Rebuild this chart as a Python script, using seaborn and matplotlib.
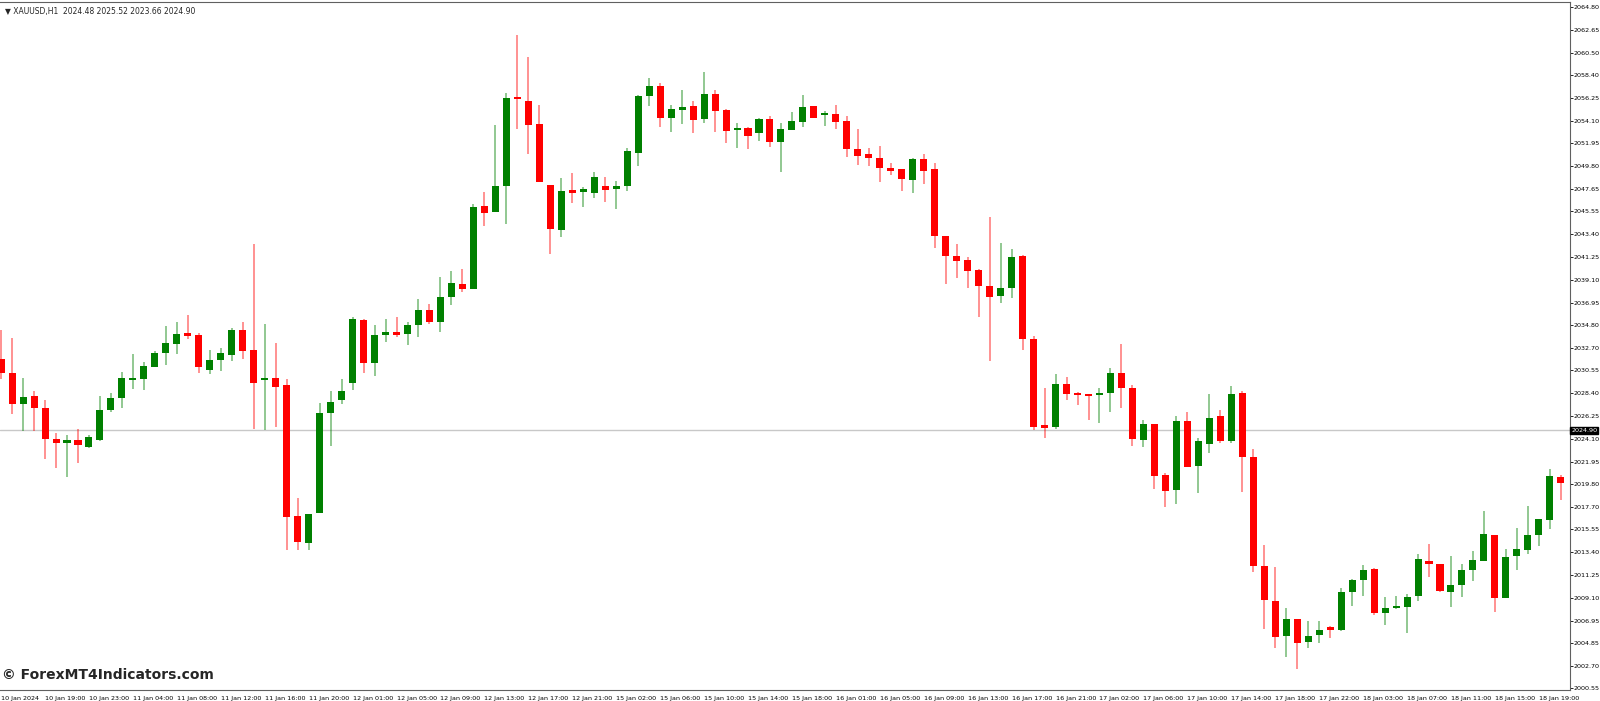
import numpy as np
import pandas as pd
import matplotlib
matplotlib.use('Agg')
import matplotlib.pyplot as plt
import seaborn as sns

sns.set_theme(style='white')
plt.rcParams['font.family'] = ['DejaVu Sans']

# XAUUSD H1 candles (open, high, low, close)
opens = [2031.6, 2030.3, 2027.4, 2028.1, 2027.0, 2024.1, 2023.7, 2024.0, 2023.3, 2024.0,
         2026.8, 2027.9, 2029.6, 2029.7, 2030.9, 2032.2, 2033.0, 2034.0, 2033.9, 2030.6,
         2031.5, 2032.0, 2034.4, 2032.5, 2029.6, 2029.8, 2029.2, 2016.8, 2014.3, 2017.1,
         2026.5, 2027.8, 2029.4, 2035.3, 2031.2, 2033.9, 2034.1, 2034.0, 2034.8, 2036.2,
         2035.1, 2037.5, 2038.7, 2038.2, 2046.1, 2045.5, 2047.9, 2056.2, 2056.0, 2053.8,
         2048.0, 2043.8, 2047.5, 2047.4, 2047.3, 2047.9, 2047.7, 2047.9, 2051.1, 2056.4,
         2057.4, 2054.4, 2055.1, 2055.5, 2054.3, 2056.6, 2055.1, 2053.2, 2053.4, 2052.9,
         2054.3, 2052.1, 2053.2, 2054.0, 2055.5, 2054.6, 2054.7, 2054.1, 2051.4, 2051.0,
         2050.6, 2049.6, 2049.5, 2048.5, 2050.5, 2049.5, 2043.2, 2041.3, 2041.0, 2040.0,
         2038.5, 2037.6, 2038.3, 2041.3, 2033.5, 2025.2, 2025.2, 2029.3, 2028.3, 2028.2,
         2028.2, 2028.4, 2030.3, 2028.9, 2024.0, 2025.5, 2020.7, 2019.3, 2025.8, 2021.5,
         2023.6, 2026.2, 2023.9, 2028.4, 2022.4, 2012.1, 2008.8, 2005.5, 2007.1, 2004.9,
         2005.6, 2006.2, 2006.1, 2009.6, 2010.8, 2011.8, 2007.7, 2008.1, 2008.2, 2009.3,
         2012.6, 2012.3, 2009.6, 2010.3, 2011.7, 2012.6, 2015.0, 2009.1, 2013.0, 2013.6,
         2015.0, 2016.4, 2020.5]
highs = [2034.4, 2033.6, 2029.8, 2028.6, 2027.8, 2024.6, 2024.5, 2025.0, 2024.5, 2028.1,
         2028.4, 2030.4, 2032.1, 2031.3, 2032.4, 2034.7, 2035.1, 2035.8, 2034.1, 2032.5,
         2032.7, 2034.5, 2035.1, 2042.5, 2034.9, 2033.1, 2029.7, 2018.5, 2017.0, 2027.5,
         2028.6, 2029.7, 2035.6, 2035.4, 2034.8, 2035.4, 2035.6, 2035.1, 2037.3, 2036.8,
         2039.4, 2039.9, 2040.1, 2046.2, 2047.4, 2053.7, 2056.7, 2062.2, 2060.1, 2055.6,
         2048.0, 2048.7, 2049.2, 2047.8, 2049.3, 2048.8, 2048.4, 2051.5, 2056.5, 2058.1,
         2057.7, 2055.6, 2057.0, 2056.0, 2058.7, 2057.0, 2055.2, 2053.9, 2053.5, 2054.4,
         2054.5, 2053.9, 2054.9, 2056.5, 2055.5, 2055.0, 2055.6, 2054.5, 2053.3, 2051.5,
         2051.7, 2050.1, 2049.5, 2050.6, 2051.0, 2050.1, 2043.2, 2042.5, 2041.2, 2040.1,
         2045.0, 2042.6, 2042.0, 2041.4, 2033.8, 2028.9, 2030.2, 2029.9, 2028.5, 2028.3,
         2028.9, 2030.8, 2033.0, 2029.2, 2025.9, 2025.5, 2020.9, 2026.2, 2026.6, 2024.2,
         2028.3, 2026.8, 2029.1, 2028.6, 2023.1, 2014.1, 2012.0, 2008.1, 2007.1, 2006.9,
         2006.9, 2006.4, 2010.0, 2010.9, 2012.2, 2011.9, 2009.2, 2009.3, 2009.5, 2013.2,
         2014.2, 2012.3, 2013.0, 2012.3, 2013.5, 2017.3, 2015.0, 2013.7, 2015.7, 2017.8,
         2016.5, 2021.2, 2020.7]
lows = [2029.7, 2026.4, 2024.8, 2024.8, 2022.2, 2021.3, 2020.5, 2021.8, 2023.2, 2023.9,
        2026.6, 2027.0, 2028.8, 2028.7, 2030.9, 2031.1, 2032.1, 2033.5, 2030.3, 2030.2,
        2030.5, 2031.4, 2031.6, 2025.0, 2024.9, 2025.2, 2013.6, 2013.6, 2013.6, 2017.1,
        2023.4, 2027.4, 2028.7, 2030.3, 2030.0, 2033.2, 2033.7, 2032.9, 2033.7, 2034.9,
        2034.2, 2036.7, 2037.9, 2038.2, 2044.2, 2045.5, 2044.4, 2053.3, 2051.0, 2048.3,
        2041.5, 2043.1, 2046.3, 2046.0, 2046.8, 2046.4, 2045.8, 2047.5, 2049.8, 2055.5,
        2053.5, 2053.0, 2053.8, 2052.9, 2053.9, 2053.0, 2052.0, 2051.5, 2051.4, 2052.2,
        2051.6, 2049.3, 2053.2, 2053.5, 2054.4, 2053.6, 2053.3, 2050.7, 2049.9, 2049.8,
        2048.3, 2049.0, 2047.5, 2047.3, 2048.1, 2042.1, 2038.7, 2039.3, 2038.3, 2035.6,
        2031.4, 2036.9, 2037.4, 2032.5, 2024.9, 2024.2, 2025.0, 2027.8, 2027.3, 2025.9,
        2025.6, 2026.6, 2027.0, 2023.4, 2023.3, 2019.4, 2017.7, 2017.9, 2021.4, 2019.0,
        2022.8, 2023.7, 2023.7, 2019.1, 2011.5, 2006.2, 2004.4, 2003.5, 2002.4, 2004.4,
        2004.8, 2005.3, 2006.0, 2008.3, 2009.3, 2007.5, 2006.5, 2008.0, 2005.8, 2008.8,
        2011.1, 2009.6, 2008.2, 2009.2, 2010.7, 2012.6, 2007.8, 2009.1, 2011.7, 2013.2,
        2014.0, 2015.6, 2018.3]
closes = [2030.3, 2027.4, 2028.0, 2027.0, 2024.1, 2023.7, 2024.0, 2023.5, 2024.3, 2026.8,
          2027.9, 2029.8, 2029.8, 2031.0, 2032.2, 2033.1, 2034.0, 2033.8, 2030.9, 2031.5,
          2032.2, 2034.4, 2032.4, 2029.4, 2029.8, 2029.0, 2016.7, 2014.4, 2017.0, 2026.5,
          2027.6, 2028.6, 2035.4, 2031.2, 2033.9, 2034.1, 2033.9, 2034.8, 2036.2, 2035.1,
          2037.5, 2038.8, 2038.2, 2046.0, 2045.4, 2047.9, 2056.2, 2056.1, 2053.7, 2048.3,
          2043.9, 2047.5, 2047.3, 2047.5, 2048.8, 2047.6, 2047.9, 2051.2, 2056.4, 2057.4,
          2054.4, 2055.2, 2055.4, 2054.2, 2056.6, 2055.0, 2053.1, 2053.3, 2052.7, 2054.3,
          2052.1, 2053.3, 2054.1, 2055.4, 2054.4, 2054.8, 2054.0, 2051.4, 2050.8, 2050.6,
          2049.6, 2049.4, 2048.6, 2050.5, 2049.4, 2043.2, 2041.3, 2040.9, 2039.9, 2038.5,
          2037.5, 2038.3, 2041.2, 2033.5, 2025.2, 2025.1, 2029.3, 2028.3, 2028.2, 2028.1,
          2028.4, 2030.3, 2028.9, 2024.1, 2025.5, 2020.6, 2019.2, 2025.8, 2021.4, 2023.9,
          2026.1, 2023.9, 2028.3, 2022.4, 2012.1, 2008.9, 2005.4, 2007.1, 2004.8, 2005.5,
          2006.1, 2006.1, 2009.6, 2010.8, 2011.7, 2007.7, 2008.1, 2008.2, 2009.2, 2012.8,
          2012.3, 2009.7, 2010.3, 2011.7, 2012.7, 2015.1, 2009.1, 2012.9, 2013.7, 2015.0,
          2016.5, 2020.6, 2019.9]

time_labels = ['10 Jan 2024', '10 Jan 19:00', '10 Jan 23:00', '11 Jan 04:00', '11 Jan 08:00',
               '11 Jan 12:00', '11 Jan 16:00', '11 Jan 20:00', '12 Jan 01:00', '12 Jan 05:00',
               '12 Jan 09:00', '12 Jan 13:00', '12 Jan 17:00', '12 Jan 21:00', '15 Jan 02:00',
               '15 Jan 06:00', '15 Jan 10:00', '15 Jan 14:00', '15 Jan 18:00', '16 Jan 01:00',
               '16 Jan 05:00', '16 Jan 09:00', '16 Jan 13:00', '16 Jan 17:00', '16 Jan 21:00',
               '17 Jan 02:00', '17 Jan 06:00', '17 Jan 10:00', '17 Jan 14:00', '17 Jan 18:00',
               '17 Jan 22:00', '18 Jan 03:00', '18 Jan 07:00', '18 Jan 11:00', '18 Jan 15:00',
               '18 Jan 19:00']
price_ticks = [2064.80, 2062.65, 2060.50, 2058.40, 2056.25, 2054.10, 2051.95, 2049.80,
               2047.65, 2045.55, 2043.40, 2041.25, 2039.10, 2036.95, 2034.80, 2032.70,
               2030.55, 2028.40, 2026.25, 2024.10, 2021.95, 2019.80, 2017.70, 2015.55,
               2013.40, 2011.25, 2009.10, 2006.95, 2004.85, 2002.70, 2000.55]
last_price = 2024.90

df = pd.DataFrame({'open': opens, 'high': highs, 'low': lows, 'close': closes})
df['bar'] = np.arange(len(df))
df['up'] = df['close'] >= df['open']

fig = plt.figure(figsize=(16, 7.01), dpi=100)
ax = fig.add_axes([0.0, 0.0157, 0.981, 0.9815])

green, red = '#008000', '#FF0000'
colors = np.where(df['up'], green, red)

# wicks
ax.vlines(df['bar'], df['low'], df['high'], colors=colors, linewidth=1.2, alpha=0.5, zorder=2)
# bodies
body_low = df[['open', 'close']].min(axis=1)
body_h = (df['close'] - df['open']).abs().clip(lower=0.25)
ax.bar(df['bar'], body_h, bottom=body_low, width=0.64, color=colors, linewidth=0, zorder=3)

ax.axhline(last_price, color='#c8c8c8', linewidth=1, zorder=1)

ax.set_xlim(-0.1, 142.8)
ax.set_ylim(2000.4, 2065.3)

ax.yaxis.tick_right()
ax.set_yticks(price_ticks)
ax.set_yticklabels([f'{p:.2f}' for p in price_ticks])
ax.set_xticks(np.arange(0, 4 * len(time_labels), 4))
ax.set_xticklabels(time_labels)
for lab in ax.get_xticklabels():
    lab.set_horizontalalignment('left')
ax.tick_params(axis='x', labelsize=4.6, length=3, width=0.6, colors='black', pad=1.5)
ax.tick_params(axis='y', labelsize=4.6, length=2, width=0.6, colors='black', pad=1)
for s in ax.spines.values():
    s.set_color('#606060')
    s.set_linewidth(0.8)
ax.spines['left'].set_visible(False)

# current price box on the axis
ax.text(1.001, last_price, f'{last_price:.2f}', transform=ax.get_yaxis_transform(),
        fontsize=4.6, color='white', va='center', ha='left',
        bbox=dict(boxstyle='square,pad=0.15', fc='black', ec='black'))

ax.text(0.003, 0.992, '\u25bc XAUUSD,H1  2024.48 2025.52 2023.66 2024.90', transform=ax.transAxes,
        fontsize=5.5, va='top', ha='left')
ax.text(0.001, 0.012, '\u00a9 ForexMT4Indicators.com', transform=ax.transAxes,
        fontsize=10, fontweight='bold', va='bottom', ha='left')

plt.savefig('out.png', dpi=100)
